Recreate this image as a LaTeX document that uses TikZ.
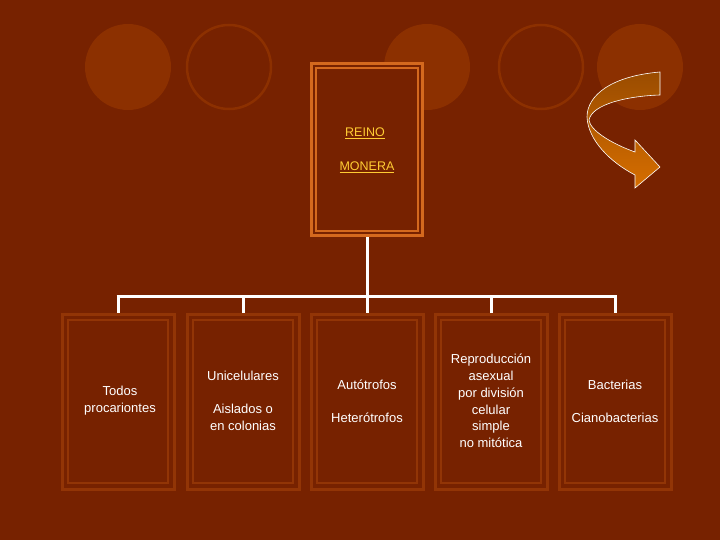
\documentclass[tikz,border=0pt]{standalone}
\usepackage{fontspec}
\setmainfont{Liberation Sans}
\usetikzlibrary{shadings}
\definecolor{bg}{HTML}{772200}
\definecolor{circ}{HTML}{8C3000}
\definecolor{boxb}{HTML}{923506}
\definecolor{topb}{HTML}{D4691E}
\definecolor{ttl}{HTML}{FFCC33}
\definecolor{arA}{HTML}{9A4C00}
\definecolor{arB}{HTML}{D66E00}
\tikzset{
 fcirc/.style={fill=circ,draw=none},
 ocirc/.style={draw=circ,line width=2.5pt},
 ibox/.style={draw=boxb,line width=3pt,inner sep=0pt,minimum width=112pt,minimum height=175pt},
 txt/.style={text=white,font=\fontsize{13}{17}\selectfont,align=center},
 wline/.style={draw=white,line width=3pt},
}
\begin{document}
\begin{tikzpicture}[x=1pt,y=-1pt]
\fill[bg] (0,0) rectangle (720,540);
\useasboundingbox (0,0) rectangle (720,540);
\fill[fcirc] (128,67) circle (43);
\draw[ocirc] (229,67) circle (42);
\fill[fcirc] (427,67) circle (43);
\draw[ocirc] (541,67) circle (42);
\fill[fcirc] (640,67) circle (43);
% top box
\node[draw=topb,fill=bg,line width=3pt,minimum width=111pt,minimum height=172pt,inner sep=0pt] (top) at (367,149.5) {};
\draw[topb,line width=2.5pt] (316,68) rectangle (418,231);
\node[text=ttl,font=\fontsize{12.5}{14}\selectfont] (t1) at (365,133) {\underline{REINO}};
\node[text=ttl,font=\fontsize{12.5}{14}\selectfont] (t2) at (367,167) {\underline{MONERA}};
% bottom boxes
\foreach \n/\x in {b1/118,b2/243,b3/367,b4/491,b5/615}{
 \node[ibox] (\n) at (\x,401.5) {};
 \draw[boxb,line width=2.5pt] (\x-50,320) rectangle (\x+50,483);
}
\coordinate (j) at (367,296);
\draw[wline] (top.south) -- (j);
\draw[wline] ([xshift=-1.5pt]b1.north |- j) -- ([xshift=1.5pt]j -| b5.north);
\foreach \n in {b1,b2,b3,b4,b5}{ \draw[wline] (\n.north |- j) -- (\n.north); }
\node[txt] at (120,401) {Todos\\procariontes};
\node[txt] at (243,401) {Unicelulares\\[16pt]Aislados o\\en colonias};
\node[txt] at (367,401) {Autótrofos\\[16pt]Heterótrofos};
\node[txt,font=\fontsize{13}{16.8}\selectfont] at (491,401) {Reproducción\\asexual\\por división\\celular\\simple\\no mitótica};
\node[txt] at (615,401) {Bacterias\\[16pt]Cianobacterias};
% curved arrow
\draw[white,line width=0.6pt,top color=arA,bottom color=arB]
 (660,72) .. controls (612,76) and (587,95) .. (587,117)
 .. controls (588,140) and (610,162) .. (635,175) -- (635,188) -- (660,167) -- (635,140) -- (635,152)
 .. controls (610,143) and (590,130) .. (589,120)
 .. controls (592,104) and (628,96) .. (660,95) -- cycle;
\end{tikzpicture}
\end{document}
